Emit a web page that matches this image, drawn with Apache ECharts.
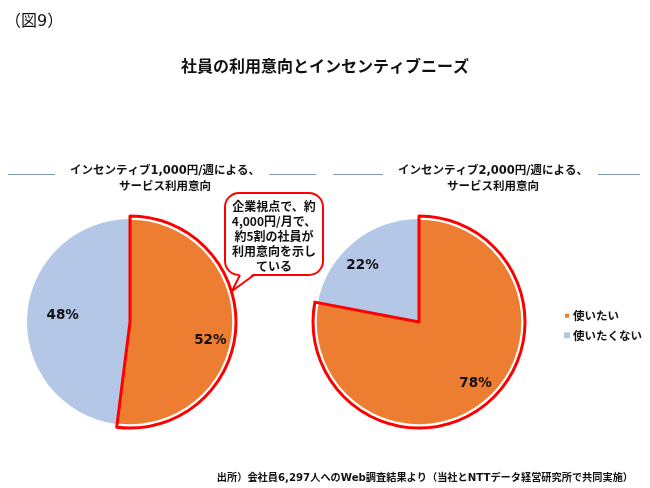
<!DOCTYPE html>
<html><head><meta charset="utf-8">
<script src="https://cdn.jsdelivr.net/npm/echarts@6/dist/echarts.min.js"></script>
<style>html,body{margin:0;padding:0;background:#fff}#c{width:650px;height:488px}</style>
</head><body><div id="c"></div>
<script>
var categories = ['使いたい', '使いたくない'];
var values1000 = [52, 48];
var values2000 = [78, 22];
var colors = ['#ED7D31', '#B4C7E7'];
var FF = "'DejaVu Sans','Noto Sans CJK JP',sans-serif";
var FJ = "'Noto Sans CJK JP',sans-serif";

function mkData(vals, outline) {
  return vals.map(function (v, i) {
    var d = { name: categories[i], value: v };
    if (outline) {
      d.itemStyle = i === 0
        ? { color: 'rgba(0,0,0,0)', borderColor: '#FF0000', borderWidth: 3 }
        : { color: 'rgba(0,0,0,0)', borderWidth: 0 };
    } else {
      d.itemStyle = i === 0 ? { color: colors[0], borderColor: '#fff', borderWidth: 1.5 }
                            : { color: colors[1], borderWidth: 0 };
    }
    return d;
  });
}
function labelData(vals, offsets) {
  return vals.map(function (v, i) {
    return { name: categories[i], value: v,
      itemStyle: { color: 'rgba(0,0,0,0)' },
      label: { offset: offsets[i] } };
  });
}
function pies(center, vals, offsets) {
  return [
    { type: 'pie', center: center, radius: 103, startAngle: 90, clockwise: true,
      data: mkData(vals, false), label: { show: false }, labelLine: { show: false },
      emphasis: { disabled: true }, silent: true, animation: false },
    { type: 'pie', center: center, radius: 106, startAngle: 90, clockwise: true,
      data: mkData(vals, true), label: { show: false }, labelLine: { show: false },
      emphasis: { disabled: true }, silent: true, animation: false, legendHoverLink: false },
    { type: 'pie', center: center, radius: [62, 103], startAngle: 90, clockwise: true,
      data: labelData(vals, offsets),
      label: { show: true, position: 'inside', formatter: '{c}%', color: '#111',
        fontFamily: FF, fontWeight: 'bold', fontSize: 13.5 },
      labelLine: { show: false }, emphasis: { disabled: true }, silent: true, animation: false }
  ];
}

var chart = echarts.init(document.getElementById('c'));
var subStyle = { fontFamily: FF, fontWeight: 'bold', fontSize: 11.5, color: '#111', lineHeight: 16 };
chart.setOption({
  animation: false,
  color: colors,
  title: [
    { text: '（図9）', left: 0, top: 9, textStyle: { fontFamily: FF, fontWeight: 'normal', fontSize: 16, color: '#111' } },
    { text: '社員の利用意向とインセンティブニーズ', left: 'center', top: 55, textStyle: { fontFamily: FF, fontWeight: 'bold', fontSize: 16, color: '#111' } },
    { text: 'インセンティブ1,000円/週による、\nサービス利用意向', left: 160, top: 158, textAlign: 'center', textStyle: subStyle },
    { text: 'インセンティブ2,000円/週による、\nサービス利用意向', left: 488, top: 158, textAlign: 'center', textStyle: subStyle },
    { text: '出所）会社員6,297人へのWeb調査結果より（当社とNTTデータ経営研究所で共同実施）', right: 12, top: 468, textStyle: { fontFamily: FF, fontWeight: 'bold', fontSize: 10.2, color: '#111' } }
  ],
  legend: {
    data: categories, orient: 'vertical', left: 563, top: 310, padding: 0, icon: 'rect',
    itemWidth: 6, itemHeight: 6, itemGap: 8, selectedMode: false,
    textStyle: { fontFamily: FJ, fontWeight: 'bold', fontSize: 11.5, color: '#111', padding: [0, 0, 0, -2] }
  },
  graphic: [
    { type: 'line', shape: { x1: 8, y1: 174.5, x2: 55, y2: 174.5 }, style: { stroke: '#8496B0', lineWidth: 1 } },
    { type: 'line', shape: { x1: 269, y1: 174.5, x2: 316, y2: 174.5 }, style: { stroke: '#8496B0', lineWidth: 1 } },
    { type: 'line', shape: { x1: 333, y1: 174.5, x2: 383, y2: 174.5 }, style: { stroke: '#8496B0', lineWidth: 1 } },
    { type: 'line', shape: { x1: 598, y1: 174.5, x2: 640, y2: 174.5 }, style: { stroke: '#8496B0', lineWidth: 1 } },
    { type: 'rect', z: 100, shape: { x: 225, y: 193, width: 98, height: 82, r: 14 },
      style: { fill: '#fff', stroke: '#FF0000', lineWidth: 2 } },
    { type: 'polygon', z: 101, shape: { points: [[240, 273], [232, 291], [254, 273]] },
      style: { fill: '#fff' } },
    { type: 'polyline', z: 102, shape: { points: [[240, 275], [232, 291], [254, 275]] },
      style: { fill: null, stroke: '#FF0000', lineWidth: 2 } },
    { type: 'text', z: 103, x: 274, y: 199,
      style: { text: '企業視点で、約\n4,000円/月で、\n約5割の社員が\n利用意向を示し\nている', align: 'center',
        font: "bold 12px 'Noto Sans CJK JP',sans-serif", lineHeight: 15, fill: '#111' } }
  ],
  series: [].concat(
    pies([130, 322], values1000, [[-5, 13], [18, -1]]),
    pies([419, 322], values2000, [[2, -4], [-2, 9]])
  )
});
</script></body></html>
